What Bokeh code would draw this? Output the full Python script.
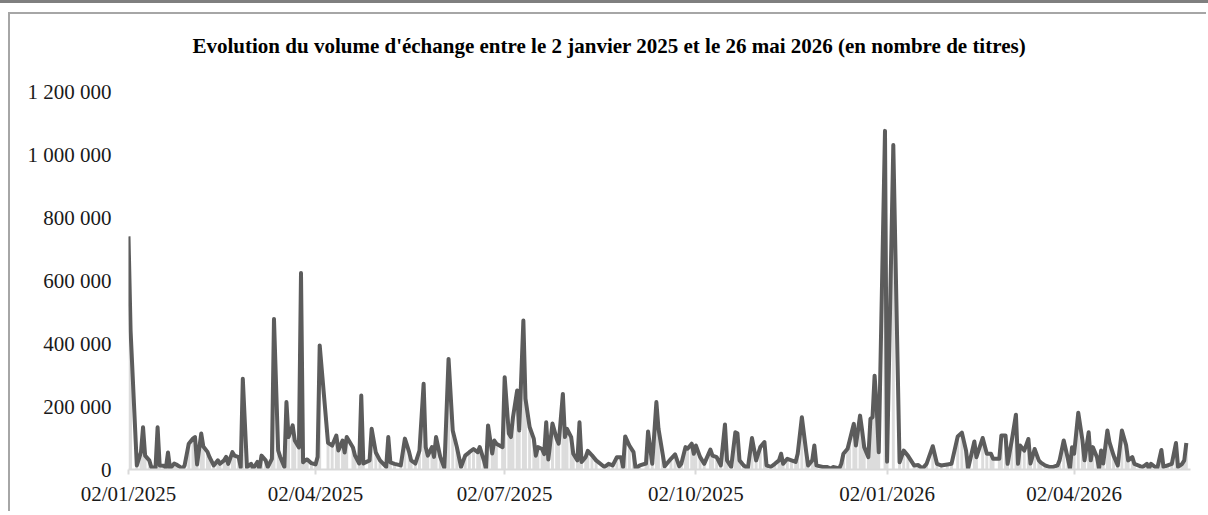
import pandas as pd
from bokeh.plotting import figure
from bokeh.layouts import column
from bokeh.models import Range1d, FixedTicker, ColumnDataSource, DatetimeTickFormatter, Title, Div
from bokeh.embed import file_html
from bokeh.resources import INLINE

titre = "Evolution du volume d'échange entre le 2 janvier 2025 et le 26 mai 2026 (en nombre de titres)"
debut = "2025-01-02"
fin_axe = "2026-05-28"

# jours de bourse (décalage en jours depuis le 02/01/2025)
jours = [0, 1, 4, 6, 7, 8, 10, 11, 13, 14, 15, 17, 18, 19, 20, 22, 23, 26, 27, 29,
         31, 32, 33, 35, 36, 38, 39, 41, 43, 44, 46, 47, 48, 50, 51, 53, 54, 55, 57, 59,
         60, 62, 63, 64, 66, 67, 69, 70, 72, 73, 75, 76, 77, 79, 80, 82, 83, 84, 85, 86,
         88, 90, 91, 92, 96, 98, 100, 101, 103, 104, 105, 108, 109, 111, 112, 113, 116, 117, 119, 121,
         124, 125, 126, 128, 131, 133, 135, 136, 138, 140, 142, 143, 144, 146, 147, 148, 150, 152, 154, 156,
         158, 160, 162, 164, 166, 168, 169, 171, 172, 173, 175, 176, 177, 180, 181, 183, 184, 185, 187, 188,
         190, 191, 193, 195, 196, 197, 199, 200, 201, 202, 204, 206, 207, 209, 210, 211, 213, 214, 216, 217,
         218, 220, 221, 223, 225, 229, 231, 233, 235, 237, 238, 239, 241, 243, 244, 246, 249, 250, 252, 254,
         255, 257, 258, 261, 263, 265, 266, 268, 269, 271, 272, 273, 275, 277, 280, 281, 283, 285, 287, 288,
         290, 292, 293, 294, 296, 298, 300, 302, 304, 306, 307, 309, 311, 313, 314, 315, 317, 319, 321, 322,
         324, 326, 327, 329, 330, 331, 334, 336, 338, 339, 342, 343, 344, 346, 347, 349, 350, 352, 353, 354,
         356, 357, 358, 359, 360, 361, 364, 365, 368, 371, 373, 375, 378, 380, 382, 384, 387, 389, 391, 394,
         396, 399, 401, 403, 404, 407, 408, 411, 413, 415, 416, 419, 420, 422, 423, 425, 427, 428, 429, 431,
         433, 434, 436, 438, 439, 441, 443, 445, 447, 448, 450, 452, 453, 454, 455, 457, 459, 460, 462, 463,
         464, 466, 467, 468, 469, 471, 472, 474, 476, 478, 480, 481, 483, 484, 487, 488, 490, 491, 492, 494,
         495, 497, 498, 500, 502, 504, 505, 507, 508, 509]

# volumes en milliers de titres
volumes_milliers = [740, 441, 13, 55, 134, 44, 29, 7, 5, 134, 13, 12, 5, 54, 3, 19, 16, 3, 13, 82,
                    98, 103, 16, 114, 73, 56, 39, 13, 29, 18, 29, 40, 18, 55, 44, 39, 7, 288, 7, 18,
                    3, 24, 2, 44, 29, 8, 34, 478, 61, 40, 8, 214, 103, 140, 92, 70, 624, 23, 29, 32,
                    20, 16, 40, 394, 85, 76, 108, 60, 92, 54, 103, 70, 44, 19, 235, 19, 29, 129, 54, 29,
                    8, 103, 23, 18, 13, 98, 56, 29, 19, 60, 272, 71, 44, 71, 40, 103, 40, 5, 351, 124,
                    71, 8, 44, 55, 65, 55, 71, 29, 3, 140, 51, 92, 82, 71, 293, 114, 103, 166, 251, 124,
                    473, 225, 135, 98, 44, 71, 65, 49, 150, 32, 146, 98, 82, 240, 103, 129, 103, 50, 29, 150,
                    24, 40, 59, 45, 29, 8, 18, 13, 39, 39, 8, 105, 76, 55, 3, 13, 19, 121, 18, 214,
                    130, 50, 10, 34, 48, 10, 18, 71, 66, 82, 50, 76, 40, 18, 63, 44, 39, 13, 143, 29,
                    8, 118, 115, 29, 13, 3, 100, 29, 71, 87, 13, 8, 18, 29, 50, 18, 34, 29, 24, 50,
                    166, 60, 13, 29, 76, 13, 8, 8, 3, 8, 3, 19, 50, 66, 92, 145, 76, 171, 124, 71,
                    39, 161, 166, 298, 198, 55, 1075, 25, 1030, 23, 60, 44, 13, 14, 3, 18, 74, 18, 13, 16,
                    18, 105, 117, 60, 3, 89, 39, 100, 50, 50, 34, 34, 108, 108, 18, 92, 174, 18, 76, 60,
                    97, 19, 65, 29, 22, 13, 8, 8, 13, 29, 92, 34, 3, 71, 50, 180, 93, 29, 118, 29,
                    71, 39, 3, 60, 19, 124, 87, 44, 13, 124, 78, 29, 39, 18, 10, 8, 18, 3, 18, 8,
                    3, 62, 8, 13, 18, 84, 8, 18, 29, 84]

x_tick_dates = ["2025-01-02", "2025-04-02", "2025-07-02", "2025-10-02", "2026-01-02", "2026-04-02"]
y_ticks = [0, 200000, 400000, 600000, 800000, 1000000, 1200000]
y_tick_labels = ["0", "200 000", "400 000", "600 000", "800 000", "1 000 000", "1 200 000"]

dates = pd.Timestamp(debut) + pd.to_timedelta(jours, unit="D")
volumes = [v * 1000 for v in volumes_milliers]
src = ColumnDataSource(dict(date=dates, volume=volumes))

FONT = "Liberation Serif"

p = figure(width=1198, height=499, x_axis_type="datetime",
           output_backend="svg", toolbar_location=None,
           x_range=Range1d(pd.Timestamp(debut), pd.Timestamp(fin_axe)),
           y_range=Range1d(0, 1200000),
           min_border_left=118, min_border_right=18, min_border_top=77, min_border_bottom=44)
p.margin = (11, 0, 0, 10)
p.styles = {"box-shadow": "-2px -2px 0 0 #a6a6a6"}
p.outline_line_color = None
p.background_fill_color = "white"
p.border_fill_color = "white"
p.xgrid.grid_line_color = None
p.ygrid.grid_line_color = None

p.vbar(x="date", top="volume", width=1.4 * 86400000, source=src,
       fill_color="#dcdcdc", line_color=None)
p.line(x="date", y="volume", source=src, line_color="#5c5c5c", line_width=4,
       line_join="round")

# espace entre le titre et la zone de tracé
p.add_layout(Title(text=" ", text_font=FONT, text_font_size="21px", standoff=8), "above")
p.add_layout(Title(text=titre, align="left", offset=64, standoff=0, text_font=FONT,
                   text_font_size="21px", text_font_style="bold", text_color="#000000"), "above")

xa = p.xaxis[0]
xa.ticker = FixedTicker(ticks=[pd.Timestamp(d).value // 10**6 for d in x_tick_dates])
xa.formatter = DatetimeTickFormatter(days="%d/%m/%Y", months="%d/%m/%Y", years="%d/%m/%Y")
xa.axis_line_color = "#d9d9d9"
xa.axis_line_width = 2
xa.major_tick_line_color = "#d9d9d9"
xa.major_tick_line_width = 2
xa.major_tick_out = 5
xa.major_tick_in = 0
xa.minor_tick_line_color = None
xa.major_label_standoff = 7
xa.major_label_text_font = FONT
xa.major_label_text_font_size = "21px"
xa.major_label_text_color = "#1a1a1a"

ya = p.yaxis[0]
ya.ticker = FixedTicker(ticks=y_ticks)
ya.major_label_overrides = {t_: l for t_, l in zip(y_ticks, y_tick_labels)}
ya.axis_line_color = None
ya.major_tick_line_color = None
ya.minor_tick_line_color = None
ya.major_label_standoff = 11
ya.major_label_text_font = FONT
ya.major_label_text_font_size = "21px"
ya.major_label_text_color = "#1a1a1a"

bande = Div(text="", width=1208, height=3, margin=0, styles={"background-color": "#7f7f7f"})
layout = column(bande, p, spacing=0)

open("out.html", "w").write(file_html(layout, INLINE))
